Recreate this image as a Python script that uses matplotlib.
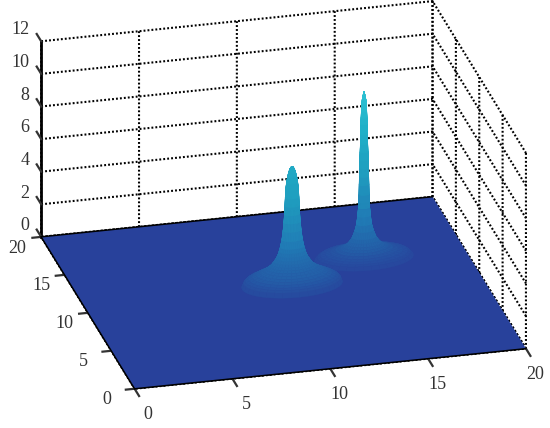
# Two narrow peaks on a flat floor, 3D surface with dotted back walls
import numpy as np
import matplotlib
matplotlib.use('Agg')
import matplotlib.pyplot as plt
from matplotlib.colors import LinearSegmentedColormap, Normalize

x_ticks = [0, 5, 10, 15, 20]
y_ticks = [0, 5, 10, 15, 20]
z_ticks = [0, 2, 4, 6, 8, 10, 12]
floor_x = [0, 20]
floor_y = [0, 20]

# peak centres and radial profiles (radius, height)
peak1_center = (10.65, 10.9)
peak1_r = [0.0, 0.06, 0.12, 0.18, 0.24, 0.29, 0.33, 0.35, 0.37, 0.39, 0.42, 0.46, 0.52,
           0.60, 0.66, 0.72, 0.80, 0.90, 1.00, 1.10, 1.25, 1.40, 1.60, 1.80, 2.00, 2.20, 2.35, 2.45, 2.55]
peak1_z = [7.25, 7.21, 7.10, 6.90, 6.60, 6.25, 5.85, 5.35, 4.85, 4.35, 3.85, 3.35, 2.80,
           2.35, 2.10, 1.88, 1.68, 1.50, 1.34, 1.20, 1.07, 0.95, 0.83, 0.72, 0.61, 0.50, 0.40, 0.28, 0.0]

peak2_center = (14.9, 13.3)
peak2_r = [0.0, 0.05, 0.10, 0.12, 0.14, 0.155, 0.17, 0.18, 0.19, 0.205, 0.22, 0.23, 0.24, 0.25, 0.26,
           0.29, 0.33, 0.38, 0.47, 0.60, 0.72, 0.85, 1.00, 1.20, 1.45, 1.70, 1.95, 2.20, 2.35, 2.50]
peak2_z = [10.20, 10.00, 9.70, 9.40, 9.00, 8.60, 8.20, 7.60, 7.00, 6.50, 6.00, 5.50, 5.00, 4.50, 3.90,
           3.10, 2.60, 2.10, 1.70, 1.30, 1.08, 0.90, 0.76, 0.65, 0.55, 0.45, 0.37, 0.30, 0.20, 0.0]

surface_cmap = LinearSegmentedColormap.from_list(
    'floor_to_cyan', [(0.0, '#28419b'), (0.08, '#235fa8'), (0.25, '#2079b5'),
                      (0.55, '#1f9ebf'), (0.8, '#20b0c8'), (1.0, '#2cc0d2')])
surface_norm = Normalize(0, 10.2)

plt.rcParams['font.family'] = ['Liberation Serif']
fig = plt.figure(figsize=(5.5, 4.28), dpi=100)
ax = fig.add_axes([-4 / 550, -54.5 / 428, 560 / 550, 560 / 428],
                  projection='3d', proj_type='ortho', computed_zorder=False)
ax.view_init(elev=24.1, azim=-104.1)
ax.set_box_aspect((402, 382, 213.5), zoom=1.034)
ax.set_xlim(0, 20, view_margin=0)
ax.set_ylim(0, 20, view_margin=0)
ax.set_zlim(0, 12, view_margin=0)

ax.set_xticks(x_ticks)
ax.set_yticks(y_ticks)
ax.set_zticks(z_ticks)
ax.tick_params(labelsize=13, colors='#333333')
ax.tick_params(axis='x', pad=12.5)
ax.tick_params(axis='y', pad=9.5)
ax.tick_params(axis='z', pad=-2.8)

for axis in (ax.xaxis, ax.yaxis, ax.zaxis):
    axis.set_pane_color('white')
    axis.pane.set_edgecolor('none')
    axis._axinfo['grid'].update(color='black', linewidth=1.5, linestyle=(0, (0.9, 1.0)))
    axis.line.set_color('black')
    axis.line.set_linewidth(1.0)

# tick lengths, the factor that points away from the box differs per axis
ax.xaxis._axinfo['tick'].update(inward_factor=0.6, outward_factor=0.0, linewidth={True: 1.6, False: 1.0})
ax.yaxis._axinfo['tick'].update(inward_factor=0.28, outward_factor=0.0, linewidth={True: 1.6, False: 1.0})
ax.zaxis._axinfo['tick'].update(inward_factor=0.0, outward_factor=0.6, linewidth={True: 1.6, False: 1.0})

# z axis on the back left corner
ax.zaxis.line.set_linewidth(2.0)
ax.zaxis._axinfo['juggled'] = (1, 2, 0)
ax.zaxis.set_ticks_position('lower')

for tick, value in zip(ax.xaxis.get_major_ticks(), x_ticks):
    tick.label1.set_va('bottom')
    if value < 10:
        tick.label1.set_ha('left')
for tick in ax.yaxis.get_major_ticks():
    tick.label1.set_va('bottom')
    tick.label1.set_ha('left')
for tick in ax.zaxis.get_major_ticks():
    tick.label1.set_va('bottom')
    tick.label1.set_ha('right')

# flat floor
fx, fy = np.meshgrid(floor_x, floor_y)
ax.plot_surface(fx, fy, np.zeros_like(fx, dtype=float), color='#28419b', shade=False,
                linewidth=0, zorder=1)
ax.plot([0, 20], [20, 20], [0, 0], color='black', lw=1.0, zorder=2)
ax.plot([0, 20], [0, 0], [0, 0], color='black', lw=1.0, zorder=2)
ax.plot([0, 0], [0, 20], [0, 0], color='black', lw=1.0, zorder=2)


def draw_peak(center, radii, heights, order):
    theta = np.radians(np.arange(0, 361, 10))
    r = np.array(radii)
    xx = center[0] + np.outer(r, np.cos(theta))
    yy = center[1] + np.outer(r, np.sin(theta)) * 0.65
    zz = np.outer(np.array(heights), np.ones_like(theta))
    ax.plot_surface(xx, yy, zz, facecolors=surface_cmap(surface_norm(zz)), shade=False,
                    rstride=1, cstride=1, linewidth=0.3, antialiased=True, zorder=order)


# the nearer peak goes on top
draw_peak(peak2_center, peak2_r, peak2_z, 3)
draw_peak(peak1_center, peak1_r, peak1_z, 4)

fig.savefig('out.png', dpi=100, facecolor='white')
